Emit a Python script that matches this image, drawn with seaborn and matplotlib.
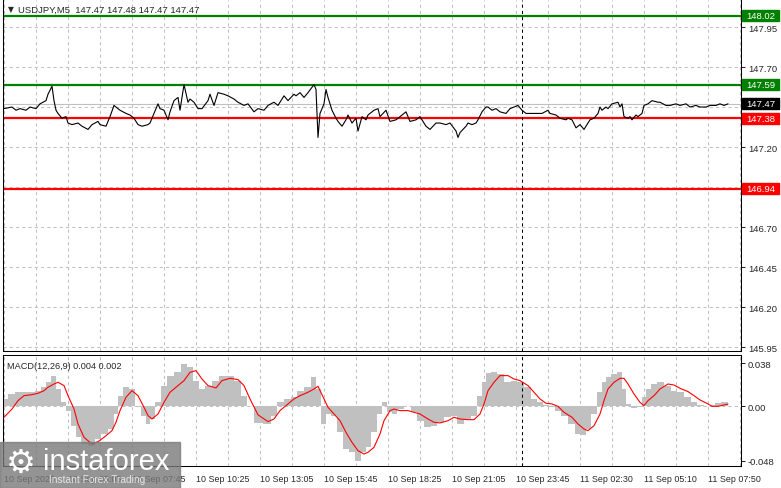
import matplotlib
matplotlib.use("Agg")
import matplotlib.pyplot as plt
import matplotlib.transforms as mtransforms
from matplotlib.patches import Rectangle
import seaborn as sns

############################# Data ################################

# USDJPY M5 closes (bar number from left edge, price)
price_bar = [0, 4, 6, 8, 11, 13, 16, 18, 21, 22, 24, 25, 26, 27, 29, 31, 32, 34, 37, 39,
             42, 44, 47, 48, 51, 53, 55, 57, 58, 61, 63, 65, 67, 69, 72,
             73, 75, 77, 78, 80, 82, 83, 85, 87, 88, 90, 92, 93, 95, 97, 99, 102, 103, 105, 107,
             110, 112, 115, 117, 120, 122, 125, 127, 130, 132, 135, 137, 140, 142, 145,
             146, 148, 150, 152, 155, 156, 157, 158, 160, 161, 162, 164, 166, 167, 169,
             171, 172, 174, 176, 177, 179, 181, 182, 185, 187, 188, 191, 193, 196, 198,
             201, 203, 206, 208, 211, 213, 216,
             218, 221, 223, 226, 227, 228, 231, 232, 234, 236, 237, 239, 241, 242, 244,
             246, 248, 251, 253, 255, 257, 259, 261, 263, 266, 269, 272, 273, 276, 278,
             281, 282, 284, 286, 288, 290,
             292, 293, 295, 297, 298, 299, 301, 302, 304, 307, 308, 309, 310, 312, 313,
             314, 316, 317, 319, 320, 322, 324, 327, 328, 331, 333, 336, 338, 341, 343,
             346, 348, 351, 353, 356, 358, 360, 362]
price_close = [147.44, 147.45, 147.43, 147.44, 147.43, 147.45, 147.44, 147.47, 147.49, 147.53,
               147.58, 147.49, 147.43, 147.41, 147.38, 147.39, 147.35, 147.34, 147.35, 147.33,
               147.31, 147.34, 147.36, 147.34, 147.33, 147.39, 147.46, 147.44, 147.43, 147.41,
               147.40, 147.38, 147.34, 147.33, 147.34,
               147.35, 147.41, 147.47, 147.44, 147.43, 147.37, 147.42, 147.49, 147.51, 147.43,
               147.59, 147.48, 147.50, 147.48, 147.44, 147.44, 147.49, 147.53, 147.46, 147.54,
               147.53, 147.52, 147.50, 147.48, 147.46, 147.47, 147.42, 147.44, 147.43, 147.46,
               147.48, 147.46, 147.52, 147.49, 147.53,
               147.52, 147.54, 147.51, 147.54, 147.59, 147.56, 147.26, 147.41, 147.47, 147.56,
               147.51, 147.43, 147.38, 147.36, 147.33, 147.37, 147.40, 147.35, 147.38, 147.30,
               147.39, 147.37, 147.40, 147.43, 147.44, 147.39, 147.43, 147.36, 147.37, 147.39,
               147.42, 147.36, 147.37, 147.39, 147.33, 147.31, 147.35,
               147.35, 147.34, 147.35, 147.30, 147.26, 147.29, 147.33, 147.35, 147.34, 147.35,
               147.37, 147.42, 147.45, 147.45, 147.43, 147.44, 147.42, 147.41, 147.44, 147.45,
               147.46, 147.43, 147.41, 147.41, 147.41, 147.41, 147.43, 147.41, 147.40, 147.38,
               147.37, 147.38, 147.37, 147.32, 147.34, 147.31,
               147.35, 147.37, 147.38, 147.41, 147.45, 147.43, 147.45, 147.44, 147.47, 147.48,
               147.45, 147.47, 147.39, 147.38, 147.39, 147.37, 147.40, 147.39, 147.41, 147.46,
               147.47, 147.49, 147.48, 147.48, 147.46, 147.46, 147.47, 147.46, 147.47, 147.45,
               147.46, 147.45, 147.45, 147.46, 147.46, 147.47, 147.46, 147.47]

# MACD(12,26,9): histogram (main) and signal line
macd_bar = [0, 4, 7, 10, 14, 17, 20, 22, 25, 27, 30, 32, 35, 37, 40, 44, 47, 50, 54, 56,
            58, 61, 64, 67, 70, 72, 74, 77, 80, 83, 87, 90, 93, 96, 99, 102, 106, 109, 113, 117,
            120, 123, 127, 132, 135, 138, 142, 145, 148, 152, 155, 157, 160, 162, 165, 168, 171, 174, 177, 180,
            182, 185, 188, 190, 193, 195, 198, 202, 205, 208, 212, 215, 218, 222, 225, 228, 232, 235, 238, 240,
            242, 245, 248, 252, 255, 258, 262, 265, 268, 271, 274, 277, 280, 284, 287, 290, 292, 295, 298, 300,
            302, 305, 308, 310, 312, 315, 318, 320, 322, 325, 328, 332, 335, 338, 342, 345, 348, 352, 354, 357,
            360, 362]
macd_hist = [0.0065, 0.0109, 0.0124, 0.0124, 0.0124, 0.0138, 0.0168, 0.0212, 0.0271, 0.0153,
             0.0035, -0.0038, -0.0171, -0.0274, -0.0333, -0.0347, -0.0289, -0.0244, -0.0200, -0.0068,
             0.0094, 0.0168, 0.0153, -0.0009, -0.0082, -0.0156, -0.0112, 0.0035, 0.0183, 0.0271,
             0.0300, 0.0374, 0.0345, 0.0227, 0.0153, 0.0183, 0.0227, 0.0271, 0.0271, 0.0227,
             0.0094, 0.0006, -0.0150, -0.0156, -0.0082, 0.0035, 0.0065, 0.0080, 0.0138, 0.0168,
             0.0256, 0.0153, -0.0156, -0.0068, -0.0082, -0.0230, -0.0377, -0.0406, -0.0480, -0.0406,
             -0.0362, -0.0230, -0.0068, 0.0035, -0.0053, -0.0068, -0.0024, 0.0006, -0.0053, -0.0127,
             -0.0186, -0.0171, -0.0141, -0.0097, -0.0082, -0.0156, -0.0112, -0.0082, 0.0094, 0.0212,
             0.0294, 0.0300, 0.0286, 0.0212, 0.0227, 0.0212, 0.0168, 0.0065, 0.0035, 0.0012,
             -0.0009, -0.0038, -0.0082, -0.0156, -0.0244, -0.0253, -0.0200, -0.0068, 0.0124, 0.0212,
             0.0256, 0.0286, 0.0300, 0.0153, 0.0021, -0.0018, -0.0009, 0.0080, 0.0153, 0.0197,
             0.0212, 0.0183, 0.0138, 0.0124, 0.0080, 0.0035, 0.0012, 0.0000, 0.0012, 0.0029,
             0.0035, 0.0040]
macd_signal = [-0.0097, -0.0024, 0.0050, 0.0094, 0.0103, 0.0115, 0.0138, 0.0168, 0.0197, 0.0212,
               0.0183, 0.0094, -0.0024, -0.0156, -0.0274, -0.0333, -0.0312, -0.0274, -0.0215, -0.0141,
               -0.0038, 0.0080, 0.0138, 0.0094, -0.0009, -0.0082, -0.0112, -0.0068, 0.0035, 0.0124,
               0.0183, 0.0227, 0.0300, 0.0315, 0.0241, 0.0183, 0.0162, 0.0227, 0.0247, 0.0236,
               0.0183, 0.0065, -0.0075, -0.0135, -0.0112, -0.0038, 0.0021, 0.0065, 0.0094, 0.0124,
               0.0153, 0.0177, 0.0065, -0.0009, -0.0068, -0.0127, -0.0230, -0.0318, -0.0392, -0.0421,
               -0.0406, -0.0362, -0.0244, -0.0127, -0.0038, -0.0024, -0.0038, -0.0038, -0.0053, -0.0068,
               -0.0112, -0.0141, -0.0147, -0.0127, -0.0097, -0.0112, -0.0118, -0.0118, -0.0068, 0.0021,
               0.0138, 0.0212, 0.0271, 0.0271, 0.0241, 0.0227, 0.0183, 0.0124, 0.0065, 0.0027,
               0.0021, 0.0000, -0.0053, -0.0097, -0.0156, -0.0200, -0.0215, -0.0171, -0.0068, 0.0050,
               0.0153, 0.0212, 0.0247, 0.0247, 0.0197, 0.0109, 0.0035, 0.0006, 0.0050, 0.0094,
               0.0153, 0.0197, 0.0188, 0.0159, 0.0130, 0.0094, 0.0056, 0.0021, 0.0000, 0.0000,
               0.0012, 0.0020]

# Levels
levels_green = [148.02, 147.59]
levels_red = [147.38, 146.94]
last_price = 147.47

price_ticks = [147.95, 147.70, 147.45, 147.20, 146.95, 146.70, 146.45, 146.20, 145.95]
price_tick_labels = ["147.95", "147.70", "", "147.20", "", "146.70", "146.45", "146.20", "145.95"]
macd_ticks = [0.038, 0.0, -0.048]
macd_tick_labels = ["0.038", "0.00", "-0.048"]
time_labels = ["10 Sep 2025", "10 Sep 05:05", "10 Sep 07:45", "10 Sep 10:25", "10 Sep 13:05",
               "10 Sep 15:45", "10 Sep 18:25", "10 Sep 21:05", "10 Sep 23:45", "11 Sep 02:30",
               "11 Sep 05:10", "11 Sep 07:50"]
day_separator = 259

############################# Plot ################################

sns.set_style("white")
plt.rcParams["font.family"] = ["Liberation Sans", "DejaVu Sans"]

W, H = 781, 489
fig = plt.figure(figsize = (W / 100, H / 100), dpi = 100)
ax = fig.add_axes([3 / W, 1 - 352 / H, 738 / W, 351 / H])
ax2 = fig.add_axes([3 / W, 1 - 467 / H, 738 / W, 111 / H])

grid_kw = dict(color = "#c0c0c0", linestyle = (0, (3, 3)), linewidth = 0.75)

for a in (ax, ax2):
    a.set_xlim(-0.5, 368.5)
    a.set_xticks([32 * j for j in range(len(time_labels))])
    a.set_xticks([16 + 32 * j for j in range(len(time_labels))], minor = True)
    a.grid(axis = "x", which = "both", **grid_kw)
    a.axvline(day_separator, color = "black", linestyle = (0, (3, 3)), linewidth = 0.75, zorder = 3)
    for s in a.spines.values():
        s.set_color("black")
        s.set_linewidth(0.75)
    a.set_axisbelow(True)

# --- price panel
ax.set_ylim(145.925, 148.119)
ax.spines["top"].set_visible(False)
ax.set_yticks(price_ticks)
ax.set_yticklabels(price_tick_labels)
ax.grid(axis = "y", **grid_kw)
ax.yaxis.tick_right()
ax.tick_params(axis = "y", direction = "out", length = 3, width = 0.75, pad = 2, labelsize = 6.8)
ax.tick_params(axis = "x", which = "both", length = 0, labelbottom = False)

ax.axhline(last_price, color = "#c0c0c0", linewidth = 0.8, zorder = 1)
for lvl in levels_green:
    ax.axhline(lvl, color = "#008000", linewidth = 1.6, zorder = 2)
for lvl in levels_red:
    ax.axhline(lvl, color = "#ff0000", linewidth = 1.6, zorder = 2)

sns.lineplot(x = price_bar, y = price_close, ax = ax, color = "black", linewidth = 0.8,
             estimator = None, zorder = 4)
ax.set_xlabel("")
ax.set_ylabel("")

# price tags on the right scale
trans = mtransforms.blended_transform_factory(ax.transAxes, ax.transData)
tags = [(l, "#008000") for l in levels_green] + [(l, "#ff0000") for l in levels_red] + [(last_price, "black")]
for lvl, col in tags:
    ax.add_patch(Rectangle((1.001, lvl - 0.035), 0.0505, 0.07, transform = trans, color = col,
                           clip_on = False, zorder = 6))
    ax.text(1.0065, lvl, f"{lvl:.2f}", transform = trans, color = "white", fontsize = 6.8,
            va = "center", ha = "left", zorder = 7, clip_on = False)

# --- MACD panel
ax2.set_ylim(-0.0527, 0.0453)
ax2.fill_between(macd_bar, macd_hist, 0, step = "mid", color = "#c0c0c0", linewidth = 0, zorder = 1)
sns.lineplot(x = macd_bar, y = macd_signal, ax = ax2, color = "#ff0000", linewidth = 0.8,
             estimator = None, zorder = 4)
ax2.axhline(0, color = "#c0c0c0", linestyle = (0, (3, 3)), linewidth = 0.75, zorder = 2)
ax2.set_xlabel("")
ax2.set_ylabel("")
ax2.set_yticks(macd_ticks)
ax2.set_yticklabels(macd_tick_labels)
ax2.yaxis.tick_right()
ax2.tick_params(axis = "y", direction = "out", length = 3, width = 0.75, pad = 2, labelsize = 6.8)
ax2.set_xticklabels(time_labels)
ax2.tick_params(axis = "x", which = "major", direction = "out", length = 3, width = 0.75,
                pad = 2.5, labelsize = 6.4)
ax2.tick_params(axis = "x", which = "minor", length = 0)
for lbl in ax2.get_xticklabels():
    lbl.set_horizontalalignment("left")

# --- headers
fig.text(8 / W, 1 - 10 / H, "▼", fontsize = 5.5, va = "center", ha = "left", family = ["DejaVu Sans"])
fig.text(18 / W, 1 - 10 / H, "USDJPY,M5  147.47 147.48 147.47 147.47", fontsize = 6.8,
         va = "center", ha = "left")
fig.text(7 / W, 1 - 367 / H, "MACD(12,26,9) 0.004 0.002", fontsize = 6.6, va = "center", ha = "left")

# --- watermark
fig.patches.append(Rectangle((0, 0), 180 / W, 46 / H, transform = fig.transFigure,
                             color = "#7a7a7a", alpha = 0.8, zorder = 10))
fig.text(6 / W, 1 - 463 / H, "⚙", fontsize = 24, color = "white", va = "center", ha = "left",
         family = ["DejaVu Sans"], zorder = 11)
fig.text(43 / W, 1 - 462 / H, "instaforex", fontsize = 21, color = "white", va = "center",
         ha = "left", zorder = 11)
fig.text(49 / W, 1 - 480 / H, "Instant Forex Trading", fontsize = 7.3, color = "#e6e6e6",
         va = "center", ha = "left", zorder = 11)

fig.savefig("out.png", dpi = 100)
plt.close()
